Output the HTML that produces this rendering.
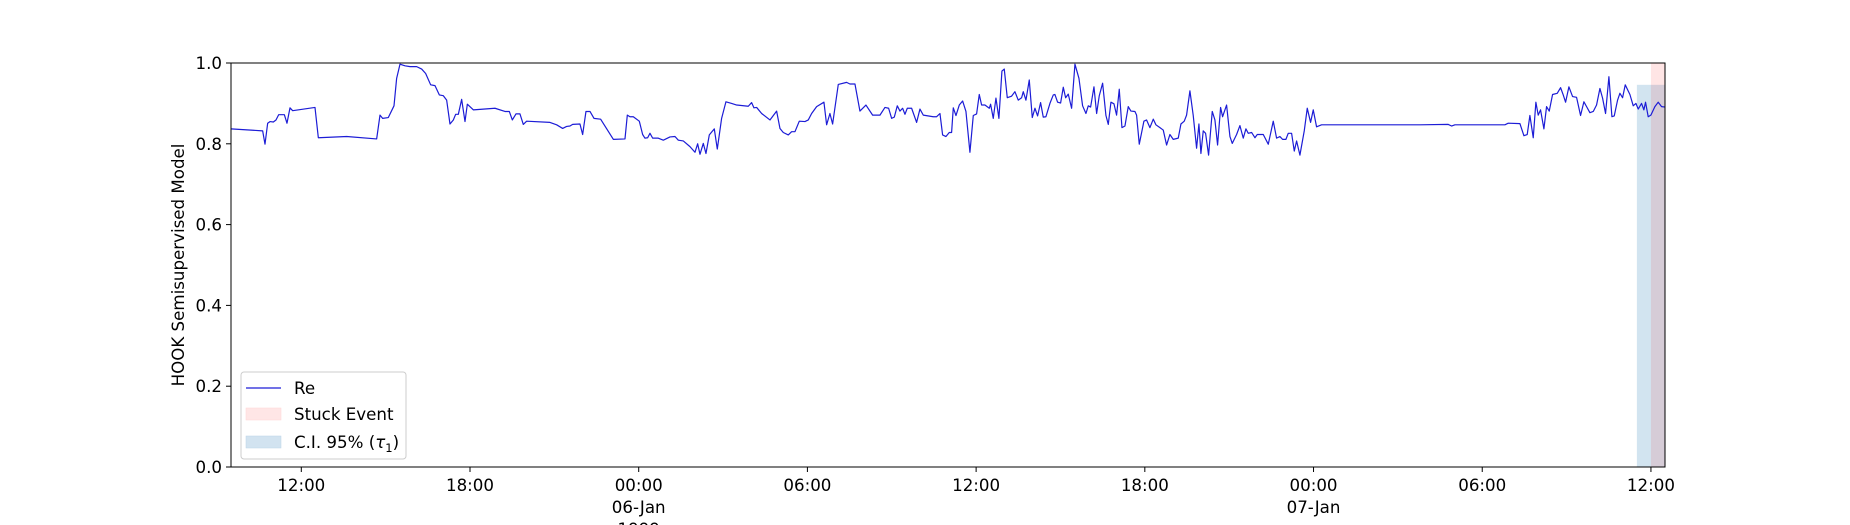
<!DOCTYPE html>
<html><head><meta charset="utf-8"><style>
html,body{margin:0;padding:0;background:#fff;}
svg{display:block;font-family:"DejaVu Sans","Liberation Sans",sans-serif;}
</style></head><body>
<svg id="chart" width="1850" height="525" viewBox="0 0 1850 525" xmlns="http://www.w3.org/2000/svg"></svg>
<script>
// ---- data ----
const hours = [0,1.126,1.209,1.304,1.387,1.505,1.6,1.695,1.897,1.991,2.098,2.193,2.987,3.106,4.113,5.18,5.299,5.393,5.595,5.797,5.891,6.01,6.188,6.366,6.603,6.781,6.923,7.101,7.255,7.409,7.551,7.67,7.788,7.907,7.99,8.085,8.203,8.322,8.405,8.618,9.388,9.744,9.898,10.005,10.135,10.277,10.396,10.514,11.344,11.581,11.795,11.937,12.056,12.15,12.411,12.506,12.624,12.767,12.909,13.146,
13.597,14.012,14.095,14.189,14.308,14.521,14.64,14.723,14.818,14.901,14.996,15.197,15.375,15.612,15.79,15.909,16.086,16.323,16.501,16.596,16.679,16.797,16.892,17.011,17.188,17.295,17.449,17.603,17.805,17.983,18.397,18.516,18.599,18.694,18.872,19.168,19.405,19.524,19.642,19.82,19.938,20.057,20.211,20.413,20.531,20.65,20.828,21.088,21.183,21.301,21.396,21.598,21.894,22.013,22.191,22.368,22.582,22.819,23.08,23.258,23.388,23.495,23.59,23.696,23.791,23.886,23.969,24.052,24.206,24.384,24.502,24.621,24.977,25.095,25.214,25.308,25.427,25.545,25.628,25.688,25.783,25.901,26.02,26.138,26.28,26.399,26.517,26.612,26.695,26.813,26.968,27.015,27.11,27.205,27.311,27.418,27.501,27.608,27.762,27.88,27.999,
28.118,28.177,28.272,28.39,28.497,28.592,28.687,28.793,28.888,28.983,29.125,29.244,29.303,29.398,29.505,29.6,29.683,29.777,29.896,30.015,30.157,30.287,30.406,30.489,30.572,30.691,30.786,30.88,30.999,31.117,31.2,31.295,31.402,31.496,31.591,31.686,31.793,31.911,32.006,32.148,32.207,32.302,32.468,32.563,32.681,32.8,32.895,33.037,33.155,33.274,33.392,33.511,33.689,33.784,33.902,33.985,34.104,34.222,34.341,34.424,34.495,34.578,34.661,34.768,34.898,34.993,35.088,35.195,35.266,35.408,35.527,35.61,35.764,35.882,36.001,36.096,36.179,36.297,36.416,36.499,36.712,36.89,37.068,37.186,37.305,37.4,37.518,37.601,37.72,37.815,37.898,38.016,38.17,38.277,38.395,38.49,38.608,38.786,39.201,40.742,42.283,
43.291,43.409,43.528,45.306,45.425,45.84,45.982,46.1,46.195,46.314,46.408,46.491,46.574,46.693,46.788,46.883,47.001,47.167,47.286,47.381,47.464,47.582,47.713,47.855,47.997,48.116,48.211,48.329,48.448,48.566,48.685,48.78,48.886,49.005,49.112,49.195,49.313,49.396,49.491,49.586,49.752,49.87,49.965,50.048,50.166,50.249,50.308,50.403,50.498,50.64,50.759,50.877,51.007];
const reValues = [.837,.832,.799,.851,.855,.854,.859,.872,.872,.851,.889,.882,.89,.815,.818,.812,.871,.863,.865,.894,.962,.997,.993,.991,.991,.985,.974,.946,.944,.921,.919,.908,.849,.859,.873,.873,.91,.855,.898,.884,.888,.88,.88,.859,.874,.874,.848,.856,.853,.847,.838,.843,.844,.848,.849,.823,.88,.88,.863,.861,
.811,.812,.871,.867,.867,.856,.823,.814,.815,.826,.814,.814,.809,.817,.818,.809,.807,.793,.779,.8,.774,.801,.776,.822,.837,.787,.863,.904,.9,.896,.893,.902,.889,.89,.875,.859,.881,.838,.828,.822,.83,.83,.856,.855,.859,.875,.892,.903,.847,.875,.849,.947,.952,.948,.948,.881,.896,.871,.871,.89,.888,.863,.866,.894,.881,.888,.873,.888,.888,.853,.886,.871,.867,.867,.875,.822,.818,.828,.828,.889,.87,.896,.906,.88,.779,.87,.874,.922,.896,.896,.888,.898,.863,.913,.863,.98,.985,.914,.918,.929,.908,
.914,.929,.908,.958,.865,.888,.869,.902,.866,.867,.9,.921,.922,.903,.901,.94,.914,.923,.888,.997,.962,.894,.875,.894,.891,.941,.875,.919,.95,.87,.848,.903,.899,.871,.935,.84,.844,.892,.881,.88,.871,.799,.856,.859,.84,.861,.847,.84,.834,.797,.823,.811,.814,.849,.856,.871,.931,.87,.789,.849,.776,.832,.826,.772,.88,.859,.797,.89,.867,.896,.818,.801,.823,.845,.814,.837,.826,.828,.815,.823,.823,.799,.856,.814,.818,.811,.811,.826,.826,.782,.807,.772,.832,.888,.853,.884,.842,.847,.847,.847,.847,
.848,.844,.847,.847,.851,.85,.82,.823,.87,.815,.903,.871,.884,.837,.892,.881,.922,.925,.939,.921,.903,.941,.917,.915,.87,.904,.892,.877,.88,.896,.937,.913,.875,.966,.867,.869,.908,.925,.914,.946,.922,.894,.9,.886,.9,.884,.903,.867,.871,.892,.903,.892,.891];
const stuckEvent = [50.5, 51.0];      // hours
const ciSpan = [50.0, 51.0];          // hours
const ciBounds = [0, 0.946];
const xTickHours = [2.5,8.5,14.5,20.5,26.5,32.5,38.5,44.5,50.5];
const xTickLabels = [["12:00"],["18:00"],["00:00","06-Jan","1999"],["06:00"],["12:00"],["18:00"],["00:00","07-Jan"],["06:00"],["12:00"]];
const yTicks = [0,0.2,0.4,0.6,0.8,1.0];
const yTickLabels = ["0.0","0.2","0.4","0.6","0.8","1.0"];

// ---- layout ----
const L=231, R=1665, T=63, B=467, X0=0, X1=51;
const xs = h => L + (h - X0) / (X1 - X0) * (R - L);
const ys = v => B - v * (B - T);
const NS="http://www.w3.org/2000/svg";
const svg=document.getElementById('chart');
function mk(tag, attrs, parent){const e=document.createElementNS(NS,tag);for(const k in attrs)e.setAttribute(k,attrs[k]);(parent||svg).appendChild(e);return e;}

// CI region
const ci=mk('rect',{x:xs(ciSpan[0]),y:ys(ciBounds[1]),width:xs(ciSpan[1])-xs(ciSpan[0]),height:ys(ciBounds[0])-ys(ciBounds[1]),fill:'rgba(31,119,180,0.2)'});


// Stuck event
const st=mk('rect',{x:xs(stuckEvent[0]),y:T,width:xs(stuckEvent[1])-xs(stuckEvent[0]),height:B-T,fill:'rgba(255,0,0,0.1)'});



// line
let d='';
for(let i=0;i<hours.length;i++){d+=(i?'L':'M')+xs(hours[i]).toFixed(2)+' '+ys(reValues[i]).toFixed(2);}
const ln=mk('path',{d:d,fill:'none',stroke:'#1c1cd6','stroke-width':1.2,'stroke-linejoin':'round'});



// axes frame
const fr=mk('rect',{x:L,y:T,width:R-L,height:B-T,fill:'none',stroke:'#000','stroke-width':1});



// y ticks
yTicks.forEach((v,i)=>{
  const t=mk('line',{x1:L-5,x2:L,y1:ys(v),y2:ys(v),stroke:'#000','stroke-width':1});
  
  
  const tx=mk('text',{x:L-9,y:ys(v)+6,'text-anchor':'end','font-size':'16.67px',fill:'#000'});
  tx.textContent=yTickLabels[i];
  
  
});
// x ticks
xTickHours.forEach((h,i)=>{
  const t=mk('line',{x1:xs(h),x2:xs(h),y1:B,y2:B+5,stroke:'#000','stroke-width':1});
  
  
  xTickLabels[i].forEach((s,j)=>{
    const tx=mk('text',{x:xs(h),y:B+24+j*22,'text-anchor':'middle','font-size':'16.67px',fill:'#000'});
    tx.textContent=s;
    
    
  });
});
// y-axis title
const yt=mk('text',{x:0,y:0,transform:'translate(184,265) rotate(-90)','text-anchor':'middle','font-size':'16.67px',fill:'#000'});
yt.textContent='HOOK Semisupervised Model';


</script>
<svg style="position:absolute;left:0;top:0" width="1850" height="525" font-family="DejaVu Sans, Liberation Sans, sans-serif">
  <rect x="241" y="372" width="165" height="87" rx="3" fill="rgba(255,255,255,0.8)" stroke="#ccc" stroke-width="1"/>
  <line x1="246" y1="388" x2="281" y2="388" stroke="#1c1cd6" stroke-width="1.2"/>
  <text x="294" y="394" font-size="16.67">Re</text>
  <rect x="246" y="408" width="35" height="12" fill="#ffe6e6" stroke="#ffd6d6" stroke-width="0.5"/>
  <text x="294" y="420" font-size="16.67">Stuck Event</text>
  <rect x="246" y="436" width="35" height="12" fill="#d2e3f0" stroke="#bcd4e8" stroke-width="0.5"/>
  <text x="294" y="448" font-size="16.67">C.I. 95% (<tspan font-style="italic">τ</tspan><tspan font-size="11.5" dy="4">1</tspan><tspan dy="-4">)</tspan></text>
</svg>
</body></html>
